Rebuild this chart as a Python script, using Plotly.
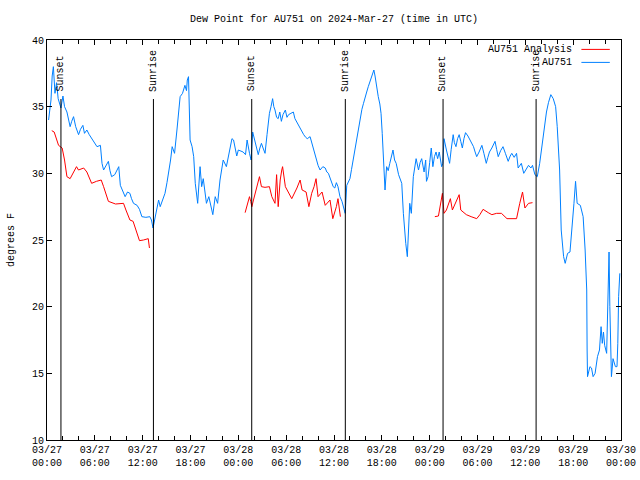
import pandas as pd
import plotly.graph_objects as go

start = pd.Timestamp("2024-03-27 00:00")

# AU751 observed dew point (hours since 03/27 00:00 UTC, deg F)
blue_hours = [0.2,0.5,0.65,0.8,1.0,1.2,1.4,1.75,2.0,2.2,2.5,2.7,2.9,3.1,3.33,3.6,3.96,4.2,4.5,4.7,5.0,5.3,5.6,5.9,6.27,6.7,6.9,7.1,7.4,7.7,7.9,8.1,8.5,9.0,9.2,9.5,9.8,10.1,10.4,10.6,10.85,11.3,11.6,11.9,12.4,12.9,13.1,13.3,13.6,13.8,14.0,14.2,14.5,14.8,15.05,15.25,15.5,15.7,16.0,16.3,16.5,16.7,17.0,17.3,17.5,17.6,17.75,17.95,18.2,18.4,18.6,18.9,19.2,19.4,19.6,19.8,20.0,20.3,20.6,20.8,21.1,21.4,21.7,21.9,22.1,22.5,22.9,23.2,23.4,23.6,23.8,24.0,24.3,24.6,24.9,25.1,25.4,25.6,25.8,26.1,26.3,26.5,26.7,26.9,27.1,27.35,27.6,27.9,28.1,28.3,28.45,28.6,28.8,29.0,29.2,29.4,29.6,29.9,30.1,30.3,30.6,30.9,31.1,31.4,31.75,32.0,32.2,32.45,32.65,33.0,33.2,33.4,33.6,33.8,34.0,34.25,34.6,34.9,35.1,35.3,35.5,35.7,35.9,36.1,36.3,36.5,36.75,37.0,37.2,37.4,37.6,38.0,38.2,38.4,38.6,38.85,39.1,39.3,39.5,39.7,39.9,40.1,40.3,40.5,40.75,41.0,41.15,41.3,41.55,41.75,41.9,42.05,42.2,42.4,42.6,42.8,43.0,43.2,43.4,43.6,43.8,44.1,44.3,44.5,44.7,44.85,45.0,45.2,45.35,45.5,45.7,45.95,46.3,46.6,46.8,47.0,47.3,47.5,47.6,47.8,48.0,48.2,48.4,48.6,48.8,49.0,49.2,49.5,49.65,49.8,50.1,50.3,50.5,50.7,50.95,51.1,51.3,51.5,51.7,51.9,52.1,52.3,52.5,52.8,53.1,53.3,53.5,53.7,53.9,54.2,54.55,54.8,55.1,55.3,55.5,55.8,56.2,56.4,56.6,56.9,57.2,57.5,57.85,58.1,58.3,58.6,58.9,59.1,59.3,59.5,59.8,60.1,60.4,60.7,60.9,61.2,61.5,61.8,62.0,62.2,62.45,62.65,62.9,63.2,63.5,63.8,64.0,64.1,64.3,64.5,64.8,65.0,65.3,65.6,65.9,66.1,66.3,66.5,66.9,67.25,67.5,67.7,67.75,67.8,68.1,68.3,68.5,68.75,69.05,69.3,69.5,69.65,69.8,69.95,70.2,70.4,70.5,70.6,70.7,70.8,71.0,71.3,71.5,71.6,71.7,71.85]
blue_values = [34.0,35.5,37.3,38.0,36.0,36.8,35.6,34.9,35.8,35.0,34.6,34.0,33.5,33.9,34.25,33.5,32.9,33.3,33.6,33.0,33.25,32.9,32.6,32.3,32.0,32.1,30.75,30.25,30.6,30.9,30.2,29.75,29.9,30.5,29.1,28.7,28.25,28.6,28.5,28.1,27.75,27.6,27.3,26.75,26.7,26.75,26.5,25.9,26.75,27.3,28.0,27.5,28.0,28.5,29.3,30.0,31.0,32.0,31.5,33.25,34.6,35.75,36.0,36.6,36.2,37.0,37.25,32.5,32.0,31.25,29.25,27.75,30.5,29.0,29.6,28.5,27.75,28.25,27.5,26.9,28.25,27.75,29.5,30.2,31.0,30.5,31.75,32.6,32.5,31.9,31.3,31.75,31.7,31.6,31.4,32.5,31.5,31.0,33.1,32.4,32.0,31.4,31.9,32.25,31.9,31.5,32.9,34.5,35.0,35.6,35.0,34.75,34.2,34.1,34.6,33.9,34.4,34.75,34.2,34.4,34.5,34.6,34.1,33.75,33.4,33.1,32.9,32.7,32.6,32.75,32.3,32.0,31.5,31.1,30.6,30.25,30.5,30.4,30.1,30.0,29.7,29.4,29.0,28.9,29.3,29.0,28.25,27.9,27.5,27.0,29.1,29.6,30.3,31.0,31.8,32.75,33.5,34.25,34.8,35.25,35.6,36.1,36.5,36.9,37.4,37.75,37.3,36.6,35.75,35.2,34.5,33.0,31.0,28.75,30.5,30.2,30.75,31.2,31.75,31.0,30.75,29.9,29.5,29.25,27.0,25.8,24.75,23.75,25.5,27.75,27.0,29.75,31.1,30.25,30.8,31.1,30.1,31.0,29.4,29.75,30.8,31.9,30.5,31.25,31.6,31.1,31.6,30.5,30.75,32.6,31.75,31.3,30.75,31.8,32.9,32.3,32.0,32.6,32.9,32.4,31.9,32.6,33.05,32.8,32.5,32.2,32.0,31.6,31.25,31.6,32.1,31.5,30.75,31.2,31.6,31.9,32.4,31.8,31.25,31.7,32.0,31.5,30.9,31.3,31.5,31.2,31.5,30.4,30.6,30.75,30.0,30.3,30.6,30.4,30.6,29.9,29.75,30.75,31.7,32.75,33.8,34.6,35.3,35.9,35.6,35.0,33.5,32.5,30.25,25.75,23.75,23.25,24.0,24.1,26.0,27.75,29.4,27.75,27.6,26.75,24.25,21.25,16.75,14.75,15.5,15.4,14.75,15.0,16.25,16.75,18.5,17.25,18.1,17.1,16.5,22.4,24.1,20.0,17.0,14.75,16.1,15.5,15.5,17.25,20.75,22.5]

# AU751 Analysis (None marks gaps)
red_hours = [0.6,0.9,1.45,1.9,2.2,2.5,2.9,3.3,3.7,3.95,4.6,5.0,5.6,6.2,6.8,7.1,7.7,8.6,9.6,9.9,10.4,10.8,11.1,11.6,12.1,12.7,12.85,18.0,
             24.85,25.4,25.55,25.7,25.9,26.3,26.65,26.9,27.35,27.9,28.2,28.6,28.8,29.0,29.25,29.45,29.55,29.9,30.3,30.7,31.35,31.75,32.0,32.5,32.85,33.2,33.5,33.75,34.0,34.5,34.9,35.5,35.85,36.3,36.5,36.8,42.0,
             48.65,49.1,49.6,49.8,50.1,50.6,50.85,51.3,51.7,51.9,52.6,53.2,53.9,54.3,54.7,55.35,55.8,56.4,57.0,57.7,58.9,59.3,59.65,59.95,60.4,60.9]
red_values = [33.2,33.1,32.1,31.9,31.0,29.75,29.6,30.1,30.5,30.25,30.4,30.1,29.25,29.4,29.5,29.0,27.9,27.7,27.75,27.25,26.5,26.4,25.9,24.95,25.0,25.1,24.4,None,
              27.05,28.25,27.9,27.5,28.0,29.0,29.75,29.0,28.95,29.0,28.25,27.75,29.9,27.5,29.5,30.25,30.5,29.0,28.6,28.1,28.9,29.5,28.75,28.6,27.5,28.5,29.0,29.6,28.25,28.6,27.6,28.0,26.6,27.5,28.1,26.75,None,
              26.75,26.8,28.5,27.0,27.25,28.1,27.25,27.9,28.4,27.25,26.9,26.75,26.6,26.9,27.3,27.05,26.9,27.0,27.0,26.6,26.6,27.75,28.6,27.4,27.75,27.8]

# Sun events (hours since start)
sun_hours = [1.75, 13.35, 25.68, 37.42, 49.68, 61.35]
sun_labels = ["Sunset", "Sunrise", "Sunset", "Sunrise", "Sunset", "Sunrise"]

def to_time(hs):
    return [start + pd.Timedelta(hours=h) for h in hs]

BLUE = "#0080ff"
RED = "#ff0000"
FONT = "Liberation Mono"

fig = go.Figure()
fig.add_trace(go.Scatter(x=to_time(red_hours), y=red_values, mode="lines",
                         line=dict(color=RED, width=1), name="AU751 Analysis",
                         connectgaps=False, showlegend=False))
fig.add_trace(go.Scatter(x=to_time(blue_hours), y=blue_values, mode="lines",
                         line=dict(color=BLUE, width=1), name="AU751",
                         showlegend=False))

shapes = []
annotations = []
for t, lab in zip(to_time(sun_hours), sun_labels):
    shapes.append(dict(type="line", xref="x", yref="paper", x0=t, x1=t, y0=0, y1=0.8525,
                       line=dict(color="black", width=1)))
    annotations.append(dict(x=t, xref="x", y=0.866, yref="paper", text=lab, textangle=-90,
                            showarrow=False, xanchor="center", yanchor="bottom",
                            font=dict(family=FONT, size=10, color="black")))

# gnuplot-style legend (text left, sample right)
for name, color, yp in [("AU751 Analysis", RED, 0.9765), ("AU751", BLUE, 0.944)]:
    annotations.append(dict(x=0.9185, xref="paper", y=yp, yref="paper", text=name,
                            showarrow=False, xanchor="right", yanchor="middle",
                            font=dict(family=FONT, size=10, color="black")))
    shapes.append(dict(type="line", xref="paper", yref="paper", x0=0.931, x1=0.9805,
                       y0=yp, y1=yp, line=dict(color=color, width=1)))

fig.update_layout(
    width=640, height=480,
    margin=dict(l=47, r=19, t=40, b=40, autoexpand=False),
    paper_bgcolor="white", plot_bgcolor="white",
    font=dict(family=FONT, size=10, color="black"),
    title=dict(text="Dew Point for AU751 on 2024-Mar-27 (time in UTC)", x=0.522, xanchor="center",
               y=0.962, yanchor="middle", font=dict(family=FONT, size=10, color="black")),
    shapes=shapes, annotations=annotations,
    showlegend=False,
)
fig.update_xaxes(
    range=[start, start + pd.Timedelta(hours=72)],
    dtick=6 * 3600 * 1000, tick0=start, tickformat="%m/%d<br>%H:%M",
    ticks="inside", ticklen=5, tickcolor="black",
    minor=dict(dtick=2 * 3600 * 1000, ticks="inside", ticklen=4, tickcolor="black"),
    showline=True, linecolor="black", linewidth=1, mirror="ticks",
    showgrid=False, zeroline=False, automargin=False,
    tickfont=dict(family=FONT, size=10, color="black"),
)
fig.update_yaxes(
    range=[10, 40], dtick=5, tick0=10,
    ticks="inside", ticklen=5, tickcolor="black",
    showline=True, linecolor="black", linewidth=1, mirror="ticks",
    showgrid=False, zeroline=False, automargin=False,
    title=dict(text="degrees F", font=dict(family=FONT, size=10, color="black"), standoff=15),
    tickfont=dict(family=FONT, size=10, color="black"),
)

fig.write_html("out.html", config={"displayModeBar": False},
               post_script="document.body.style.margin='0';document.body.style.overflow='hidden';")
